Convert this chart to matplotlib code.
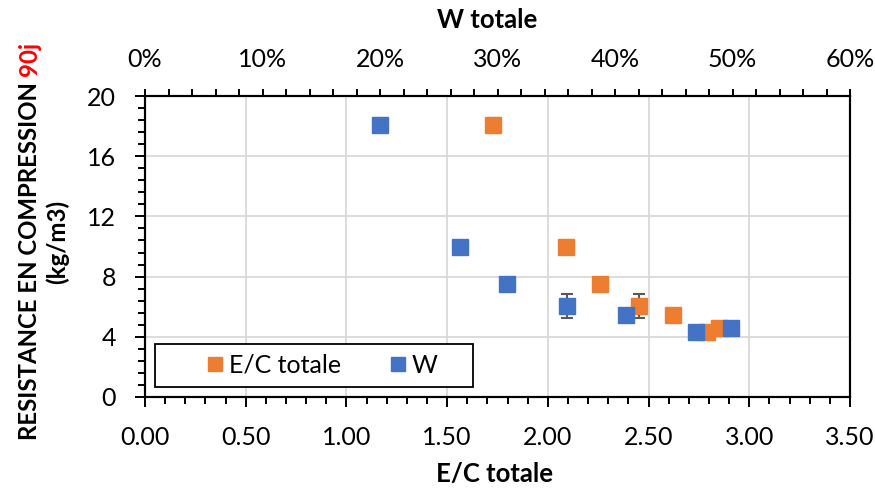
import matplotlib
matplotlib.use("Agg")
import matplotlib.pyplot as plt
from matplotlib.ticker import MultipleLocator, PercentFormatter, FormatStrFormatter
from matplotlib.lines import Line2D
from matplotlib.patches import Rectangle

# data
ec_totale = [1.73, 2.09, 2.26, 2.45, 2.62, 2.79, 2.85]
w_totale = [20.0, 26.8, 30.8, 35.9, 40.9, 46.9, 49.9]   # %
resistance = [18.1, 10.0, 7.5, 6.05, 5.45, 4.3, 4.6]
erreur = [0.42, 0.1, 0.1, 0.8, 0.1, 0.1, 0.1]

orange = "#ED7D31"
bleu = "#4472C4"

plt.rcParams['font.family'] = ['Lato', 'DejaVu Sans']

fig = plt.figure(figsize=(8.75, 4.88), dpi=100)
ax = fig.add_axes([145/875, 1-397/488, 705/875, 301/488])

ax.errorbar(ec_totale, resistance, yerr=erreur, fmt='s', ms=11, color=orange,
            ecolor="#595959", elinewidth=1.5, capsize=4.5, capthick=1.5, zorder=3)
ax.set_xlim(0, 3.5)
ax.set_ylim(0, 20)
ax.xaxis.set_major_locator(MultipleLocator(0.5))
ax.xaxis.set_minor_locator(MultipleLocator(0.1))
ax.xaxis.set_major_formatter(FormatStrFormatter('%.2f'))
ax.yaxis.set_major_locator(MultipleLocator(4))
ax.yaxis.set_minor_locator(MultipleLocator(0.8))
ax.grid(True, which='major', color="#D9D9D9", lw=1.3)
ax.set_axisbelow(True)
ax.tick_params(which='both', direction='out', width=1.4, labelsize=18, colors='black')
ax.tick_params(which='major', length=7)
ax.tick_params(which='minor', length=5)
ax.tick_params(axis='x', pad=14)
ax.tick_params(axis='y', pad=14)
for s in ax.spines.values():
    s.set_linewidth(1.5)

# second x axis for W
ax2 = ax.twiny()
ax2.errorbar(w_totale, resistance, yerr=erreur, fmt='s', ms=11, color=bleu,
             ecolor="#595959", elinewidth=1.5, capsize=4.5, capthick=1.5, zorder=3)
ax2.set_xlim(0, 60)
ax2.xaxis.set_major_locator(MultipleLocator(10))
ax2.xaxis.set_minor_locator(MultipleLocator(2))
ax2.xaxis.set_major_formatter(PercentFormatter(100, decimals=0))
ax2.tick_params(which='both', direction='out', width=1.4, length=5, labelsize=18, pad=13)
for s in ax2.spines.values():
    s.set_linewidth(1.5)

# legend box
ax2.add_patch(Rectangle((0.014, 0.033), 0.451, 0.143, transform=ax2.transAxes,
                        facecolor='white', edgecolor='black', lw=1.3, zorder=4))
handles = [Line2D([], [], ls='', marker='s', ms=10, color=orange),
           Line2D([], [], ls='', marker='s', ms=10, color=bleu)]
leg = ax2.legend(handles, ["E/C totale", "W"], ncol=2, loc='center',
                 bbox_to_anchor=(0.25, 0.105), fontsize=18, frameon=False,
                 handletextpad=0.15, columnspacing=1.9, handlelength=0.8)
leg.set_zorder(5)

fig.text(487/875, 1-20/488, "W totale", ha='center', va='center', fontsize=18.5, fontweight='bold')
fig.text(495/875, 1-474/488, "E/C totale", ha='center', va='center', fontsize=18.5, fontweight='bold')

fig.canvas.draw()
r = fig.canvas.get_renderer()
t1 = fig.text(37/875, 1-440/488, "RESISTANCE EN COMPRESSION", rotation=90,
              rotation_mode='anchor', ha='left', va='baseline', fontsize=17.3, fontweight='bold')
bb = t1.get_window_extent(r)
fig.text(37/875, (bb.y1 + 6)/fig.bbox.height, "90j", rotation=90, rotation_mode='anchor',
         ha='left', va='baseline', fontsize=17.3, fontweight='bold', color='red')
fig.text(57/875, 1-242/488, "(kg/m3)", rotation=90, ha='center', va='center',
         fontsize=17.3, fontweight='bold')

fig.savefig("out.png", dpi=100)
